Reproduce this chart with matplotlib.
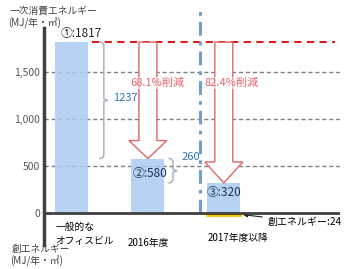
import matplotlib.pyplot as plt
from matplotlib.patches import FancyArrow

plt.rcParams['font.family'] = ['Noto Sans CJK JP', 'DejaVu Sans']

# data
labels = ['一般的な\nオフィスビル', '2016年度', '2017年度以降']
consumption = [1817, 580, 320]
value_labels = ['①:1817', '②:580', '③:320']
creation = 24
yticks = [0, 500, 1000, 1500]
ytick_labels = ['0', '500', '1,000', '1,500']

fig = plt.figure(figsize=(3.57, 2.69), dpi=100)
W, H = 357, 269
ax = fig.add_axes([44 / W, 1 - 245 / H, (340 - 44) / W, (245 - 28) / H])

x = [0, 1, 2]
bw = 0.434
ax.set_xlim(-0.368, 3.53)
ax.set_ylim(-340, 1968)

# grid
for v in yticks[1:]:
    ax.axhline(v, color='#808080', lw=1, dashes=(3, 2), zorder=1)

ax.bar(x, consumption, bw, color='#a9ccf5', alpha=0.85, zorder=2)
ax.bar(2, -creation, bw, color='#ffc000', edgecolor='#ffc000', lw=2, zorder=2)

ax.axhline(0, color='#404040', lw=2, zorder=4)

# red dashed reference line at level 1
ax.plot([0.26, 3.46], [consumption[0]] * 2, color='#e00000', lw=1.3,
        dashes=(4, 3), zorder=3)

# blue dash-dot divider
ax.plot([1.68, 1.68], [0, 2160], color='#6f9fd0', lw=2.2,
        dashes=(4.5, 2, 1.2, 2), zorder=3, clip_on=False)

# reduction arrows
for i, hl in [(1, 191), (2, 223)]:
    arr = FancyArrow(x[i], consumption[0], 0, consumption[i] - consumption[0],
                     width=0.237, head_width=0.5, head_length=hl,
                     length_includes_head=True, fc='white', ec='#e06666',
                     lw=1, zorder=5)
    ax.add_patch(arr)
    pct = (1 - consumption[i] / consumption[0]) * 100
    ax.text(x[i] + 0.12 - (i - 1) * 0.02, 1383, f'{pct:.1f}%削減',
            color='#e8636a', fontsize=8, ha='center', va='center', zorder=6,
            bbox=dict(fc='white', ec='none', pad=0.5, alpha=0.6))


# braces
def brace(xb, top, bot, w=0.05):
    mid = (top + bot) / 2
    r = 30
    xs = [xb, xb + w * 0.6, xb + w, xb + w, xb + 2 * w, xb + w, xb + w, xb + w * 0.6, xb]
    ys = [top, top - r * 0.2, top - r, mid + r * 0.5, mid, mid - r * 0.5, bot + r, bot + r * 0.2, bot]
    ax.plot(xs, ys, color='#a3adba', lw=1, zorder=3)


brace(0.37, consumption[0], consumption[1])
ax.text(0.71, 1223, str(consumption[0] - consumption[1]), color='#2e75b6',
        fontsize=8, ha='center', va='center')
brace(1.28, consumption[1], consumption[2])
ax.text(1.57, 596, str(consumption[1] - consumption[2]), color='#2e75b6',
        fontsize=8, ha='center', va='center')

# value labels
ax.text(0.12, consumption[0] + 25, value_labels[0], fontsize=8.5,
        ha='center', va='bottom', color='#222222')
ax.text(1.03, 425, value_labels[1], fontsize=8.5,
        ha='center', va='center', color='#1f2f4f', zorder=6)
ax.text(2.0, 223, value_labels[2], fontsize=8.5,
        ha='center', va='center', color='#1f2f4f', zorder=6)

ax.annotate(f'創エネルギー:{creation}', xy=(x[2] + bw / 2, -14),
            xytext=(2.58, -96), fontsize=7.2, ha='left', va='center',
            arrowprops=dict(arrowstyle='-|>', color='#222222', lw=0.8,
                            mutation_scale=6))

# category labels
ax.text(-bw / 2, -223, labels[0], fontsize=7, ha='left', va='center',
        linespacing=1.6)
ax.text(1.0, -319, labels[1], fontsize=7, ha='center', va='center')
ax.text(2 - bw / 2, -266, labels[2], fontsize=7, ha='left', va='center')

# axes styling
ax.set_yticks(yticks)
ax.set_yticklabels(ytick_labels, fontsize=7.5, color='#595959')
ax.set_xticks([])
ax.tick_params(axis='y', length=0, pad=3)
for s in ['top', 'right', 'bottom']:
    ax.spines[s].set_visible(False)
ax.spines['left'].set_color('#404040')
ax.spines['left'].set_linewidth(2.5)

fig.text(10 / W, 1 - 11 / H, '一次消費エネルギー', fontsize=7, va='center',
         color='#404040')
fig.text(8 / W, 1 - 23 / H, '(MJ/年・㎡)', fontsize=7, va='center',
         color='#404040')
fig.text(12 / W, 1 - 249 / H, '創エネルギー', fontsize=7, va='center',
         color='#404040')
fig.text(10 / W, 1 - 261 / H, '(MJ/年・㎡)', fontsize=7, va='center',
         color='#404040')

fig.savefig('out.png', dpi=100)
